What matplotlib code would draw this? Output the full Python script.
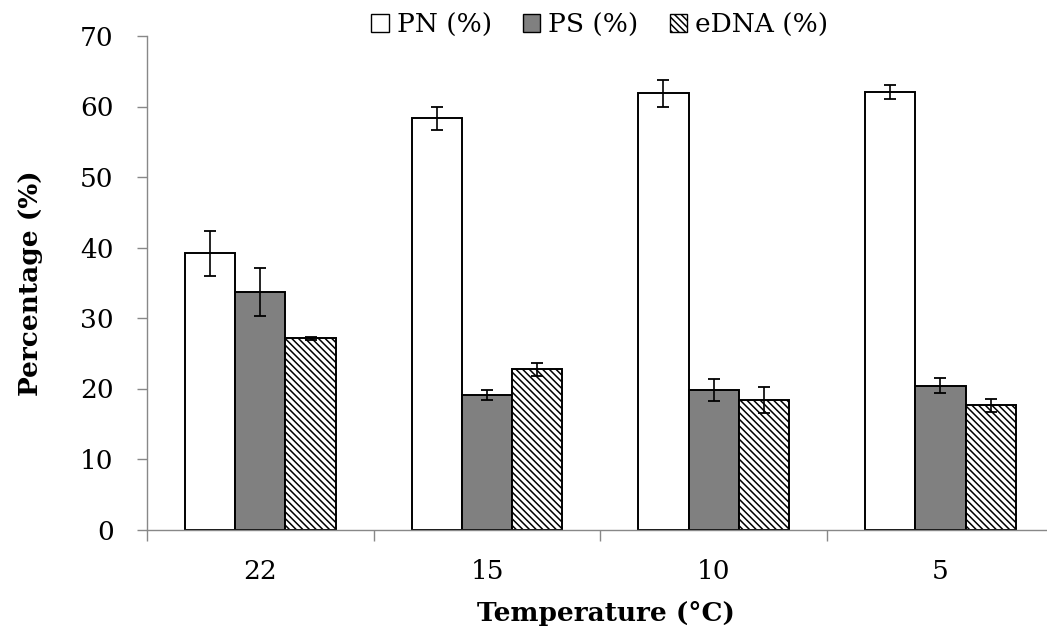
import numpy as np
import matplotlib
matplotlib.use("Agg")
import matplotlib.pyplot as plt
from matplotlib.patches import Patch

plt.rcParams["font.family"] = ["DejaVu Serif"]
plt.rcParams["hatch.linewidth"] = 1.1
plt.rcParams["hatch.color"] = "black"

temps = ["22", "15", "10", "5"]
pn = [39.2, 58.3, 61.9, 62.0]
pn_err = [3.2, 1.6, 1.9, 1.0]
ps = [33.7, 19.1, 19.8, 20.4]
ps_err = [3.4, 0.75, 1.6, 1.1]
edna = [27.1, 22.7, 18.4, 17.6]
edna_err = [0.2, 0.9, 1.85, 0.9]

FS = 19
AXIS_GREY = "#888888"
W = 0.222

fig = plt.figure(figsize=(10.47, 6.38), dpi=100)
ax = fig.add_axes([147 / 1047, 1 - 529.5 / 638, 906.7 / 1047, 493.5 / 638])

x = np.arange(len(temps))
series = [
    (pn, pn_err, dict(facecolor="white", hatch=None), "PN (%)"),
    (ps, ps_err, dict(facecolor="#808080", hatch=None), "PS (%)"),
    (edna, edna_err, dict(facecolor="white", hatch="\\" * 5), "eDNA (%)"),
]
handles = []
for i, (vals, err, style, label) in enumerate(series):
    pos = x + (i - 1) * W
    ax.bar(pos, vals, width=W, edgecolor="black", linewidth=1.4, zorder=2, **style)
    ax.errorbar(pos, vals, yerr=err, fmt="none", ecolor="black",
                elinewidth=1.2, capsize=4.5, capthick=1.3, zorder=3)
    handles.append(Patch(edgecolor="black", linewidth=1.0, label=label, **style))

ax.set_xlim(-0.5, len(temps) - 0.5)
ax.set_ylim(0, 70)
ax.set_yticks(np.arange(0, 71, 10))
ax.set_xticks(x)
ax.set_xticklabels(temps)
ax.set_xticks(np.arange(-0.5, len(temps), 1.0), minor=True)

for side in ("top", "right"):
    ax.spines[side].set_visible(False)
for side in ("left", "bottom"):
    ax.spines[side].set_color(AXIS_GREY)
    ax.spines[side].set_linewidth(1.0)

ax.tick_params(axis="y", direction="out", length=7, width=1.0, color=AXIS_GREY,
               labelsize=FS, pad=17)
ax.tick_params(axis="x", which="major", length=0, labelsize=FS, pad=21)
ax.tick_params(axis="x", which="minor", direction="out", length=8, width=1.0,
               color=AXIS_GREY)

fig.text(31 / 1047, 1 - 283 / 638, "Percentage (%)", rotation=90, ha="center",
         va="center", fontsize=FS, fontweight="bold")
fig.text(606 / 1047, 1 - 613 / 638, "Temperature (°C)", ha="center",
         va="center", fontsize=FS, fontweight="bold")

fig.legend(handles=handles, loc="center", bbox_to_anchor=(600 / 1047, 1 - 25 / 638),
           ncol=3, frameon=False, fontsize=FS, handlelength=0.65, handleheight=0.65,
           handletextpad=0.3, columnspacing=1.2, borderaxespad=0)

fig.savefig("out.png", dpi=100)
